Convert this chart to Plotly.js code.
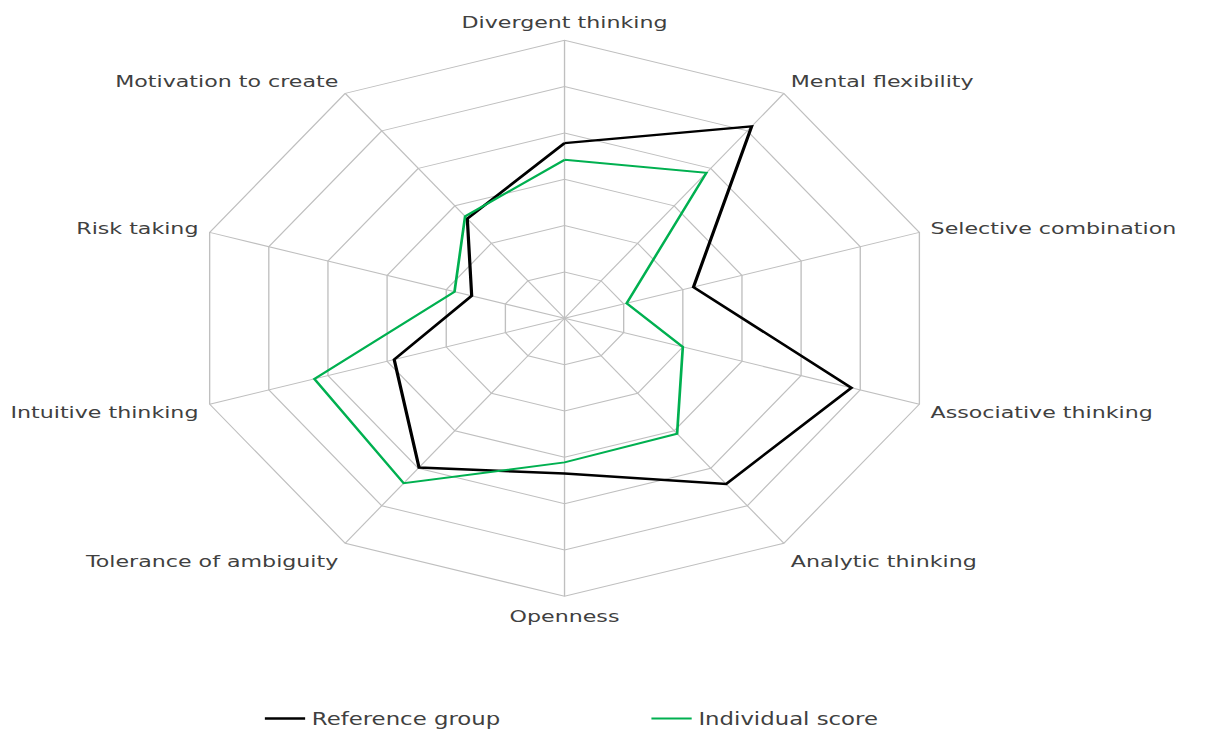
<!DOCTYPE html>
<html>
<head>
<meta charset="utf-8">
<script src="https://cdn.plot.ly/plotly-3.0.1.min.js"></script>
<style>
  html, body { margin: 0; padding: 0; background: #ffffff; overflow: hidden; }
  #wrap { width: 1212px; height: 730px; overflow: hidden; }
  #chart { width: 903px; height: 730px; transform: scaleX(1.3422); transform-origin: 0 0; }
</style>
</head>
<body>
<div id="wrap"><div id="chart"></div></div>
<script>
const categories = [
  "Divergent thinking", "Mental flexibility", "Selective combination",
  "Associative thinking", "Analytic thinking", "Openness",
  "Tolerance of ambiguity", "Intuitive thinking", "Risk taking",
  "Motivation to create"
];
const referenceGroup = [3.78, 5.12, 2.18, 4.85, 4.42, 3.35, 3.98, 2.88, 1.57, 2.66];
const individualScore = [3.42, 3.88, 1.05, 2.0, 3.08, 3.11, 4.4, 4.23, 1.86, 2.72];
const seriesNames = ["Reference group", "Individual score"];

const closeLoop = arr => arr.concat([arr[0]]);

const traces = [
  {
    type: "scatterpolar", mode: "lines", name: seriesNames[0],
    r: closeLoop(referenceGroup), theta: closeLoop(categories),
    line: { color: "#000000", width: 2.4 }
  },
  {
    type: "scatterpolar", mode: "lines", name: seriesNames[1],
    r: closeLoop(individualScore), theta: closeLoop(categories),
    line: { color: "#00B050", width: 2 }
  }
];

const W = 903, H = 730;
const cx = 420.6, cy = 318.3, R = 278;

const layout = {
  width: W, height: H,
  margin: { l: 0, r: 0, t: 0, b: 0, autoexpand: false },
  paper_bgcolor: "#ffffff",
  font: { family: "DejaVu Sans, sans-serif", size: 16.5, color: "#404040" },
  showlegend: true,
  legend: {
    orientation: "h", x: 0.213, y: 1 - 719 / H, xanchor: "left", yanchor: "middle",
    entrywidth: 243, entrywidthmode: "pixels",
    font: { family: "DejaVu Sans, sans-serif", size: 17, color: "#404040" }
  },
  polar: {
    domain: { x: [(cx - R) / W, (cx + R) / W], y: [1 - (cy + R) / H, 1 - (cy - R) / H] },
    gridshape: "linear",
    bgcolor: "#ffffff",
    radialaxis: {
      range: [0, 6], dtick: 1, showticklabels: false, ticks: "",
      showline: false, gridcolor: "#bfbfbf", gridwidth: 1
    },
    angularaxis: {
      direction: "clockwise", rotation: 90,
      categoryorder: "array", categoryarray: categories,
      linecolor: "#bfbfbf", linewidth: 1, gridcolor: "#bfbfbf", gridwidth: 1,
      ticks: "outside", ticklen: 5, tickcolor: "rgba(0,0,0,0)",
      tickfont: { family: "DejaVu Sans, sans-serif", size: 16.5, color: "#404040" }
    }
  }
};

Plotly.newPlot("chart", traces, layout, { displayModeBar: false, staticPlot: true });
</script>
</body>
</html>
